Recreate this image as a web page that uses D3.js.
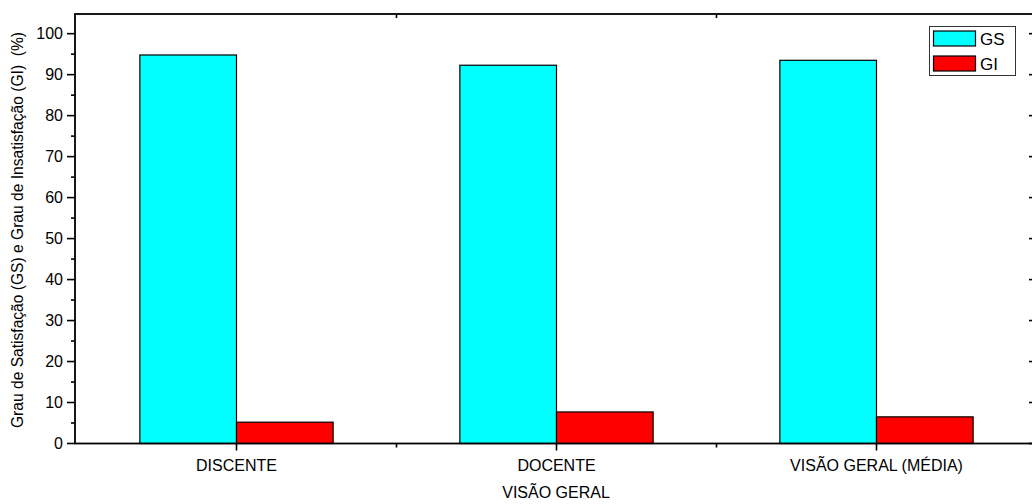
<!DOCTYPE html>
<html><head><meta charset="utf-8">
<script src="https://cdn.jsdelivr.net/npm/d3@7"></script>
<style>body{margin:0;background:#fff}svg{display:block}text{font-family:"Liberation Sans",Arial,sans-serif;fill:#000}</style>
</head><body>
<svg id="c" width="1032" height="504"></svg>
<script>
const categories = ["DISCENTE", "DOCENTE", "VISÃO GERAL (MÉDIA)"];
const seriesNames = ["GS", "GI"];
const gsValues = [94.8, 92.3, 93.5];
const giValues = [5.2, 7.7, 6.5];
const yTicks = [0, 10, 20, 30, 40, 50, 60, 70, 80, 90, 100];
const colors = ["#00FFFF", "#FF0000"];

const svg = d3.select("#c");
const L = 75, R = 1033, T = 14, B = 443.5;
const y = d3.scaleLinear().domain([0, 104.8]).range([B, T]);
const x = d3.scaleBand().domain(categories).range([L + 1.5, L + 1.5 + 960]).padding(0);
const bw = x.bandwidth() * 0.302;

// bars
const series = [gsValues, giValues];
series.forEach((vals, si) => {
  svg.append("g").selectAll("rect").data(categories).join("rect")
    .attr("x", (c) => x(c) + x.bandwidth() / 2 + (si === 0 ? -bw : 0))
    .attr("y", (c, i) => y(vals[i]))
    .attr("width", bw)
    .attr("height", (c, i) => y(0) - y(vals[i]))
    .attr("fill", colors[si])
    .attr("stroke", "#000").attr("stroke-width", 1.2);
});

// frame
svg.append("rect").attr("x", L).attr("y", T).attr("width", R - L).attr("height", B - T)
  .attr("fill", "none").attr("stroke", "#000").attr("stroke-width", 1.8);

// left axis
const minor = d3.range(5, 105, 10);
const gl = svg.append("g");
gl.selectAll("line.maj").data(yTicks).join("line")
  .attr("x1", L - 8).attr("x2", L).attr("y1", d => y(d)).attr("y2", d => y(d))
  .attr("stroke", "#000").attr("stroke-width", 1.6);
gl.selectAll("line.min").data(minor).join("line").attr("class", "min")
  .attr("x1", L - 4).attr("x2", L).attr("y1", d => y(d)).attr("y2", d => y(d))
  .attr("stroke", "#000").attr("stroke-width", 1.6);
gl.selectAll("text").data(yTicks).join("text")
  .attr("x", L - 12).attr("y", d => y(d)).attr("dy", "0.36em")
  .attr("text-anchor", "end").attr("font-size", 16).text(d => d);

// right axis ticks (inward)
svg.append("g").selectAll("line").data(yTicks).join("line")
  .attr("x1", R - 4).attr("x2", R).attr("y1", d => y(d)).attr("y2", d => y(d))
  .attr("stroke", "#000").attr("stroke-width", 1.6);

// bottom axis
const centers = categories.map(c => x(c) + x.bandwidth() / 2);
const bounds = categories.slice(1).map(c => x(c));
svg.append("g").selectAll("line").data(centers).join("line")
  .attr("x1", d => d).attr("x2", d => d).attr("y1", B).attr("y2", B + 7)
  .attr("stroke", "#000").attr("stroke-width", 1.6);
svg.append("g").selectAll("line").data(bounds).join("line")
  .attr("x1", d => d).attr("x2", d => d).attr("y1", B).attr("y2", B + 4)
  .attr("stroke", "#000").attr("stroke-width", 1.6);
svg.append("g").selectAll("line").data(bounds).join("line")
  .attr("x1", d => d).attr("x2", d => d).attr("y1", T).attr("y2", T + 4)
  .attr("stroke", "#000").attr("stroke-width", 1.6);
svg.append("g").selectAll("text").data(categories).join("text")
  .attr("x", c => x(c) + x.bandwidth() / 2).attr("y", 471)
  .attr("text-anchor", "middle").attr("font-size", 16).text(c => c);

// titles
svg.append("text").attr("x", 556).attr("y", 498).attr("text-anchor", "middle")
  .attr("font-size", 16).text("VISÃO GERAL");
svg.append("text").attr("transform", "translate(23,230) rotate(-90)")
  .attr("text-anchor", "middle").attr("font-size", 15.6)
  .text("Grau de Satisfação (GS) e Grau de Insatisfação (GI)\u00A0\u00A0(%)");

// legend
const lg = svg.append("g");
lg.append("rect").attr("x", 929.5).attr("y", 26.5).attr("width", 86).attr("height", 49)
  .attr("fill", "#fff").attr("stroke", "#333").attr("stroke-width", 1);
seriesNames.forEach((s, i) => {
  lg.append("rect").attr("x", 933.5).attr("y", 31 + i * 25).attr("width", 42).attr("height", 15)
    .attr("fill", colors[i]).attr("stroke", "#000").attr("stroke-width", 1.2);
  lg.append("text").attr("x", 980).attr("y", 44.5 + i * 25).attr("font-size", 17).text(s);
});
</script>
</body></html>
